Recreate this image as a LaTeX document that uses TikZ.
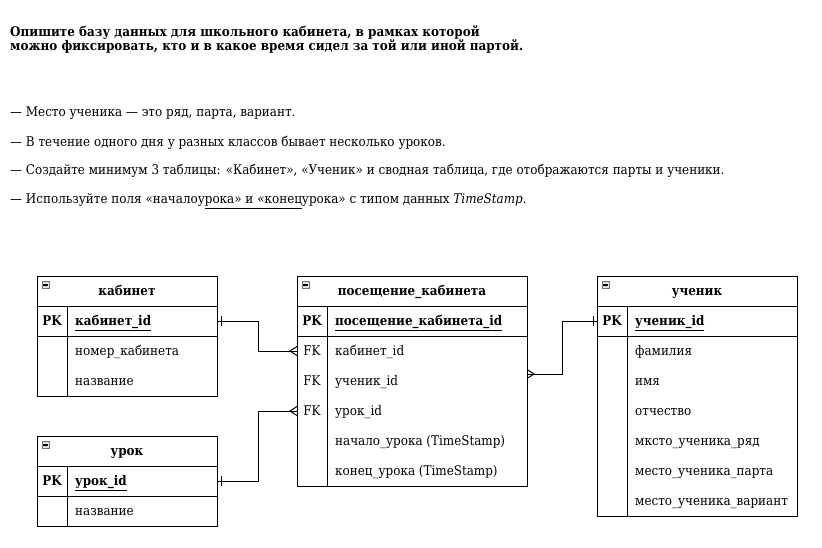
\documentclass[tikz,border=0pt]{standalone}
\usepackage{fontspec}
\setmainfont{DejaVu Serif Condensed}
\usetikzlibrary{positioning}
\tikzset{
  txt/.style={anchor=base west, yshift=-4.5pt, inner sep=0pt, font=\fontsize{13.3}{15}\selectfont},
  bold/.style={txt, font=\fontsize{13.3}{15}\selectfont\bfseries},
  line/.style={anchor=base west, inner sep=0pt, font=\fontsize{13.3}{15}\selectfont},
  key/.style={anchor=base, yshift=-4pt, inner sep=0pt, font=\fontsize{13.3}{15}\selectfont\bfseries},
  fkey/.style={key, font=\fontsize{13.3}{15}\selectfont},
  cell/.style={draw, line width=1pt, anchor=north west, inner sep=0pt, outer sep=0pt, minimum height=30pt, text height=10pt, text depth=2pt, font=\fontsize{13.3}{15}\selectfont\bfseries},
  icon/.style={draw=black!55, fill=black!12, line width=0.8pt, minimum size=7pt, inner sep=0pt},
  link/.style={line width=1pt},
}
\begin{document}
\begin{tikzpicture}[x=1pt,y=-1pt]
\useasboundingbox (0,0) rectangle (822,548);

\node[line, font=\fontsize{13.3}{15}\selectfont\bfseries] (title1) at (10,37) {Опишите базу данных для школьного кабинета, в рамках которой};
\node[line, font=\fontsize{13.3}{15}\selectfont\bfseries] (title2) at (10,51) {можно фиксировать, кто и в какое время сидел за той или иной партой.};

\node[line] (note1) at (10,117) {— Место ученика — это ряд, парта, вариант.};
\node[line] (note2) at (10,147) {— В течение одного дня у разных классов бывает несколько уроков.};
\node[line] (note3) at (10,175) {— Создайте минимум 3 таблицы: «Кабинет», «Ученик» и сводная таблица, где отображаются парты и ученики.};
\node[line] (note4) at (10,204) {— Используйте поля «началоу\underline{рока» и «конец}урока» с типом данных \textit{TimeStamp}.};

% кабинет
\node[cell, minimum width=180pt] (kab-head) at (37,276) {кабинет};
\node[cell, minimum width=180pt] (kab-pk) at (kab-head.south west) {};
\node[cell, minimum width=180pt, minimum height=60pt] (kab-body) at (kab-pk.south west) {};
\draw[link] (67,306) -- (67,396);
\node[icon] (kab-icon) at (45.5,285) {\rule{4.5pt}{1.2pt}};
\node[key] (kab-pkt) at (52,321) {PK};
\node[bold] (kab-id) at (75,321) {\underline{кабинет\_id}};
\node[txt] (kab-num) at (75,351) {номер\_кабинета};
\node[txt] (kab-name) at (75,381) {название};

% урок
\node[cell, minimum width=180pt] (urok-head) at (37,436) {урок};
\node[cell, minimum width=180pt] (urok-pk) at (urok-head.south west) {};
\node[cell, minimum width=180pt] (urok-body) at (urok-pk.south west) {};
\draw[link] (67,466) -- (67,526);
\node[icon] (urok-icon) at (45.5,445) {\rule{4.5pt}{1.2pt}};
\node[key] (urok-pkt) at (52,481) {PK};
\node[bold] (urok-id) at (75,481) {\underline{урок\_id}};
\node[txt] (urok-name) at (75,511) {название};

% посещение_кабинета
\node[cell, minimum width=230pt] (pos-head) at (297,276) {посещение\_кабинета};
\node[cell, minimum width=230pt] (pos-pk) at (pos-head.south west) {};
\node[cell, minimum width=230pt, minimum height=150pt] (pos-body) at (pos-pk.south west) {};
\draw[link] (327,306) -- (327,486);
\node[icon] (pos-icon) at (305.5,285) {\rule{4.5pt}{1.2pt}};
\node[key] (pos-pkt) at (312,321) {PK};
\node[bold] (pos-id) at (335,321) {\underline{посещение\_кабинета\_id}};
\node[fkey] (pos-fk1t) at (312,351) {FK};
\node[fkey] (pos-fk2t) at (312,381) {FK};
\node[fkey] (pos-fk3t) at (312,411) {FK};
\node[txt] (pos-kab) at (335,351) {кабинет\_id};
\node[txt] (pos-uch) at (335,381) {ученик\_id};
\node[txt] (pos-urok) at (335,411) {урок\_id};
\node[txt] (pos-start) at (335,441) {начало\_урока (TimeStamp)};
\node[txt] (pos-end) at (335,471) {конец\_урока (TimeStamp)};

% ученик
\node[cell, minimum width=200pt] (uch-head) at (597,276) {ученик};
\node[cell, minimum width=200pt] (uch-pk) at (uch-head.south west) {};
\node[cell, minimum width=200pt, minimum height=180pt] (uch-body) at (uch-pk.south west) {};
\draw[link] (627,306) -- (627,516);
\node[icon] (uch-icon) at (605.5,285) {\rule{4.5pt}{1.2pt}};
\node[key] (uch-pkt) at (612,321) {PK};
\node[bold] (uch-id) at (635,321) {\underline{ученик\_id}};
\node[txt] (uch-f) at (635,351) {фамилия};
\node[txt] (uch-i) at (635,381) {имя};
\node[txt] (uch-o) at (635,411) {отчество};
\node[txt] (uch-r) at (635,441) {мксто\_ученика\_ряд};
\node[txt] (uch-p) at (635,471) {место\_ученика\_парта};
\node[txt] (uch-v) at (635,501) {место\_ученика\_вариант};

% connectors
\coordinate (pos-fk1) at (297,351);
\coordinate (pos-fk3) at (297,411);
\coordinate (pos-out) at (527,374);

\draw[link] (kab-pk.east) -- ++(41,0) |- (pos-fk1);
\draw[link] ([xshift=4pt]kab-pk.east) ++(0,-5) -- ++(0,10);
\draw[link] (pos-fk1) ++(0,-4.5) -- ++(-7,4.5) -- ++(7,4.5);

\draw[link] (urok-pk.east) -- ++(41,0) |- (pos-fk3);
\draw[link] ([xshift=4pt]urok-pk.east) ++(0,-5) -- ++(0,10);
\draw[link] (pos-fk3) ++(0,-4.5) -- ++(-7,4.5) -- ++(7,4.5);

\draw[link] (pos-out) -- ++(35,0) |- (uch-pk.west);
\draw[link] ([xshift=-4pt]uch-pk.west) ++(0,-5) -- ++(0,10);
\draw[link] (pos-out) ++(0,-4.5) -- ++(7,4.5) -- ++(-7,4.5);
\end{tikzpicture}
\end{document}
